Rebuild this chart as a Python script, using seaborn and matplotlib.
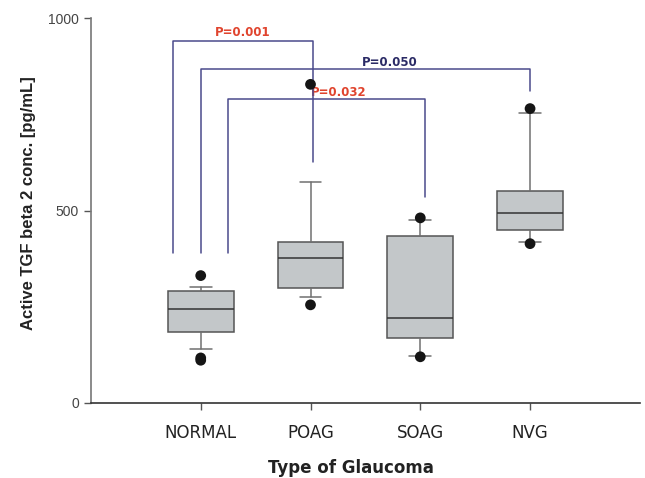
import numpy as np
import pandas as pd
import matplotlib
matplotlib.use('Agg')
import matplotlib.pyplot as plt
import seaborn as sns

# box statistics (pg/mL)
groups = ['NORMAL', 'POAG', 'SOAG', 'NVG']
q1 = [184, 298, 169, 449]
median = [243, 376, 220, 494]
q3 = [292, 419, 433, 550]
whis_lo = [140, 275, 123, 419]
whis_hi = [301, 574, 475, 754]

# outliers (dots)
out_group = ['NORMAL', 'NORMAL', 'NORMAL', 'POAG', 'POAG', 'SOAG', 'SOAG', 'NVG', 'NVG']
out_value = [331, 117, 111, 255, 828, 481, 120, 414, 765]

# significance brackets: left x, right x, bar height, left leg end, right leg end
br_left = [-0.25, 0.0, 0.25]
br_right = [1.02, 3.0, 2.04]
br_top = [941, 868, 790]
br_left_end = [390, 390, 390]
br_right_end = [627, 810, 536]
br_label = ['P=0.001', 'P=0.050', 'P=0.032']
br_label_x = [0.38, 1.72, 1.26]
br_label_y = [962, 884, 808]
br_label_color = ['#e0442e', '#2b2b66', '#e0442e']

sns.set_style('white')
plt.rcParams['font.family'] = ['DejaVu Sans']

fig = plt.figure(figsize=(6.45, 4.78), dpi=100)
ax = fig.add_axes([0.141, 0.157, 0.851, 0.805])

stats = []
for i, g in enumerate(groups):
    stats.append({'label': g, 'q1': q1[i], 'med': median[i], 'q3': q3[i],
                  'whislo': whis_lo[i], 'whishi': whis_hi[i], 'fliers': []})
pos = np.arange(len(groups))
ax.bxp(stats, positions=pos, widths=0.6, capwidths=0.2, patch_artist=True,
       showfliers=False,
       boxprops=dict(facecolor='#c3c7c9', edgecolor='#555555', linewidth=1.1),
       medianprops=dict(color='#333333', linewidth=1.1),
       whiskerprops=dict(color='#707070', linewidth=1.1),
       capprops=dict(color='#707070', linewidth=1.1))

df_out = pd.DataFrame({'x': [groups.index(g) for g in out_group], 'y': out_value})
sns.scatterplot(data=df_out, x='x', y='y', color='#151515', s=60,
                edgecolor='none', ax=ax, zorder=5)

for i in range(len(br_label)):
    ax.plot([br_left[i], br_left[i], br_right[i], br_right[i]],
            [br_left_end[i], br_top[i], br_top[i], br_right_end[i]],
            color='#4a4a8c', linewidth=1.1, zorder=4)
    ax.text(br_label_x[i], br_label_y[i], br_label[i], color=br_label_color[i],
            fontsize=8.5, fontweight='bold', ha='center', va='center',
            family='DejaVu Sans')

ax.set_xlim(-1, 4)
ax.set_ylim(0, 1000)
ax.set_xticks(pos)
ax.set_xticklabels(groups, fontsize=12, color='#222222')
ax.set_yticks([0, 500, 1000])
ax.set_yticklabels(['0', '500', '1000'], fontsize=10, color='#444444',
                   family='Liberation Sans')
ax.tick_params(axis='both', direction='out', length=5, width=1, color='#555555',
               bottom=True, left=True)
ax.tick_params(axis='x', pad=10)
ax.set_xlabel('Type of Glaucoma', fontsize=12, fontweight='bold', color='#222222')
ax.xaxis.set_label_coords(0.473, -0.145)
ax.set_ylabel('Active TGF beta 2 conc. [pg/mL]', fontsize=12, fontweight='bold',
              family='Liberation Sans', color='#222222')
ax.yaxis.set_label_coords(-0.1, 0.52)
sns.despine(ax=ax)
ax.spines['left'].set_color('#777777')
ax.spines['bottom'].set_color('#333333')
ax.spines['left'].set_linewidth(1.2)
ax.spines['bottom'].set_linewidth(1.2)

fig.savefig('out.png', dpi=100)
